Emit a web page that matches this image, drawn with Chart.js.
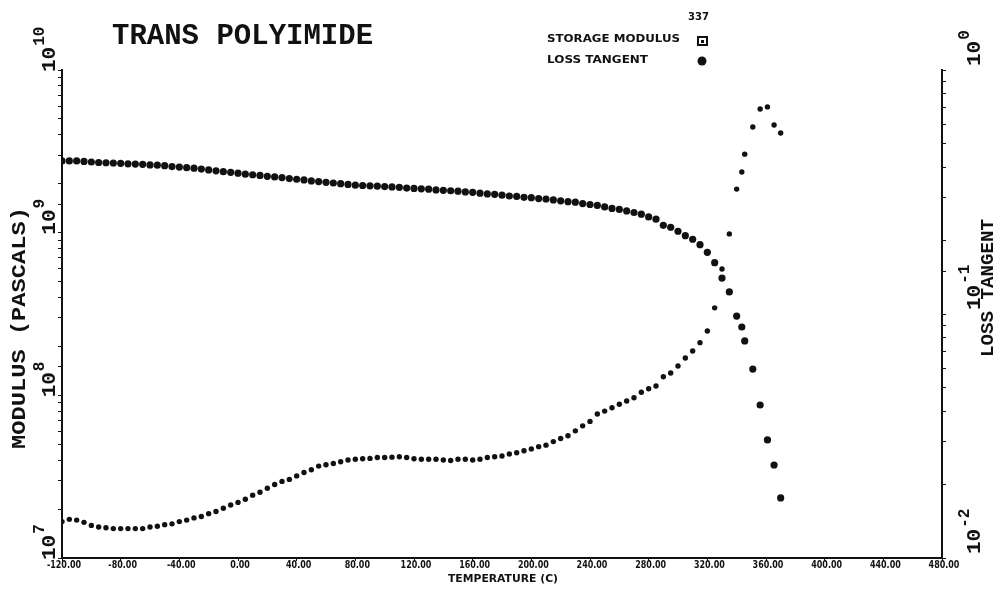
<!DOCTYPE html>
<html>
<head>
<meta charset="utf-8">
<script src="https://cdn.jsdelivr.net/npm/chart.js"></script>
<style>
  html, body { margin: 0; padding: 0; background: #fff; }
  canvas { display: block; }
</style>
</head>
<body>
<canvas id="dma" width="995" height="589"></canvas>
<script>
// temperature (C) of each sample, both curves share it
const temps = [
  -120, -115, -110, -105, -100, -95, -90, -85, -80, -75,
  -70, -65, -60, -55, -50, -45, -40, -35, -30, -25,
  -20, -15, -10, -5, 0, 5, 10, 15, 20, 25,
  30, 35, 40, 45, 50, 55, 60, 65, 70, 75,
  80, 85, 90, 95, 100, 105, 110, 115, 120, 125,
  130, 135, 140, 145, 150, 155, 160, 165, 170, 175,
  180, 185, 190, 195, 200, 205, 210, 215, 220, 225,
  230, 235, 240, 245, 250, 255, 260, 265, 270, 275,
  280, 285, 290, 295, 300, 305, 310, 315, 320, 325,
  330, 335, 340, 343.5, 345.5, 351, 356, 361, 365.5, 370
];

// storage modulus, Pa
const storageModulus = [
  2.76e9, 2.76e9, 2.76e9, 2.74e9, 2.72e9, 2.70e9, 2.69e9, 2.68e9, 2.67e9, 2.65e9,
  2.64e9, 2.63e9, 2.61e9, 2.60e9, 2.58e9, 2.55e9, 2.53e9, 2.51e9, 2.49e9, 2.46e9,
  2.43e9, 2.40e9, 2.37e9, 2.35e9, 2.32e9, 2.29e9, 2.27e9, 2.25e9, 2.22e9, 2.20e9,
  2.18e9, 2.15e9, 2.13e9, 2.11e9, 2.08e9, 2.06e9, 2.04e9, 2.02e9, 2.00e9, 1.98e9,
  1.96e9, 1.95e9, 1.94e9, 1.93e9, 1.92e9, 1.91e9, 1.90e9, 1.88e9, 1.87e9, 1.86e9,
  1.85e9, 1.83e9, 1.82e9, 1.81e9, 1.80e9, 1.78e9, 1.77e9, 1.75e9, 1.73e9, 1.72e9,
  1.70e9, 1.68e9, 1.67e9, 1.65e9, 1.64e9, 1.62e9, 1.61e9, 1.59e9, 1.57e9, 1.55e9,
  1.54e9, 1.51e9, 1.49e9, 1.47e9, 1.44e9, 1.41e9, 1.39e9, 1.36e9, 1.33e9, 1.30e9,
  1.25e9, 1.21e9, 1.11e9, 1.08e9, 1.02e9, 9.58e8, 9.11e8, 8.44e8, 7.57e8, 6.54e8,
  5.26e8, 4.32e8, 3.07e8, 2.63e8, 2.16e8, 1.45e8, 8.72e7, 5.32e7, 3.73e7, 2.34e7
];

// loss tangent (tan delta)
const lossTangent = [
  0.0141, 0.0144, 0.0143, 0.0140, 0.0136, 0.0134, 0.0133, 0.0132, 0.0132, 0.0132,
  0.0132, 0.0132, 0.0134, 0.0135, 0.0137, 0.0138, 0.0141, 0.0143, 0.0146, 0.0148,
  0.0152, 0.0155, 0.0160, 0.0165, 0.0169, 0.0174, 0.0181, 0.0186, 0.0193, 0.0200,
  0.0206, 0.0210, 0.0217, 0.0224, 0.0230, 0.0238, 0.0241, 0.0244, 0.0248, 0.0252,
  0.0254, 0.0255, 0.0256, 0.0258, 0.0258, 0.0259, 0.0260, 0.0258, 0.0255, 0.0254,
  0.0254, 0.0254, 0.0252, 0.0251, 0.0254, 0.0254, 0.0252, 0.0254, 0.0258, 0.0260,
  0.0262, 0.0267, 0.0270, 0.0275, 0.0280, 0.0286, 0.0290, 0.0300, 0.0309, 0.0317,
  0.0332, 0.0348, 0.0363, 0.0389, 0.0400, 0.0413, 0.0427, 0.0440, 0.0454, 0.0478,
  0.0494, 0.0507, 0.0553, 0.0573, 0.0612, 0.0660, 0.0705, 0.0763, 0.0852, 0.106,
  0.153, 0.213, 0.325, 0.382, 0.452, 0.584, 0.692, 0.706, 0.595, 0.552
];

const chartTitle = 'TRANS POLYIMIDE';
const runNumber = '337';
const seriesNames = ['STORAGE MODULUS', 'LOSS TANGENT'];
const xTitle = 'TEMPERATURE (C)';
const yLeftTitle = 'MODULUS (PASCALS)';
const yRightTitle = 'LOSS TANGENT';
const leftDecades = [7, 8, 9, 10];
const rightDecades = [-2, -1, 0];

const INK = '#111';
const MONO = '"Liberation Mono", "DejaVu Sans Mono", monospace';
const SANS = '"DejaVu Sans", "Liberation Sans", sans-serif';

// squeeze/stretch a string to a given width (old plotter lettering is narrow)
function fitText(ctx, str, x, y, w) {
  const m = ctx.measureText(str).width;
  ctx.save();
  ctx.translate(x, y);
  ctx.scale(w / m, 1);
  ctx.fillText(str, 0, 0);
  ctx.restore();
}

// "10" with a superscript, rotated to read bottom-to-top, starting at (x, y)
function powerLabel(ctx, x, y, exp) {
  ctx.save();
  ctx.translate(x, y);
  ctx.rotate(-Math.PI / 2);
  ctx.font = 'bold 21px ' + MONO;
  ctx.fillText('10', 0, 0);
  const w = ctx.measureText('10').width;
  ctx.font = 'bold 16px ' + MONO;
  ctx.fillText(String(exp), w + 1, -11);
  ctx.restore();
}

// vertical title centred on cy, stretched to a given length
function vTitle(ctx, str, x, cy, font, len) {
  ctx.save();
  ctx.translate(x, cy);
  ctx.rotate(-Math.PI / 2);
  ctx.font = font;
  fitText(ctx, str, -len / 2, 0, len);
  ctx.restore();
}

const annotate = {
  id: 'annotate',
  afterDraw(chart) {
    const { ctx, scales } = chart;
    ctx.save();
    ctx.fillStyle = INK;
    ctx.strokeStyle = INK;
    ctx.textBaseline = 'alphabetic';

    ctx.font = 'bold 29px ' + MONO;
    ctx.fillText(chartTitle, 112, 44);

    // legend block
    ctx.font = 'bold 10px ' + SANS;
    fitText(ctx, runNumber, 688, 20, 21);
    ctx.font = 'bold 11px ' + SANS;
    fitText(ctx, seriesNames[0], 547, 42, 133);
    fitText(ctx, seriesNames[1], 547, 63, 101);
    ctx.lineWidth = 2;
    ctx.strokeRect(698, 37, 9, 8);
    ctx.fillRect(701, 40, 3, 3);
    ctx.beginPath();
    ctx.arc(702, 61, 4.5, 0, Math.PI * 2);
    ctx.fill();

    // temperature tick labels
    ctx.font = 'bold 10px ' + SANS;
    scales.x.ticks.forEach(t => {
      const x = scales.x.getPixelForValue(t.value);
      const s = t.value.toFixed(2);
      const w = ctx.measureText(s).width * 0.8;
      fitText(ctx, s, x + 2 - w / 2, 568, w);
    });

    ctx.font = 'bold 11px ' + SANS;
    fitText(ctx, xTitle, 448, 582, 110);

    vTitle(ctx, yLeftTitle, 25, 328, 'bold 20px ' + MONO, 242);
    vTitle(ctx, yRightTitle, 993, 288, 'bold 19px ' + MONO, 138);

    leftDecades.forEach(p => {
      const y = scales.y.getPixelForValue(Math.pow(10, p));
      powerLabel(ctx, 55, y + 2, p);
    });
    rightDecades.forEach(p => {
      const y = scales.y2.getPixelForValue(Math.pow(10, p));
      powerLabel(ctx, 980, y - 4, p === 0 ? '0' : '-' + Math.abs(p));
    });
    ctx.restore();
  }
};

const noBox = s => { s.width = 0; };

new Chart(document.getElementById('dma'), {
  type: 'scatter',
  data: {
    datasets: [
      {
        label: seriesNames[0],
        data: temps.map((t, i) => ({ x: t, y: storageModulus[i] })),
        yAxisID: 'y',
        pointStyle: 'circle',
        pointRadius: 3.6,
        backgroundColor: INK,
        borderWidth: 0
      },
      {
        label: seriesNames[1],
        data: temps.map((t, i) => ({ x: t, y: lossTangent[i] })),
        yAxisID: 'y2',
        pointStyle: 'circle',
        pointRadius: 2.7,
        backgroundColor: INK,
        borderWidth: 0
      }
    ]
  },
  options: {
    responsive: false,
    animation: false,
    devicePixelRatio: 1,
    layout: { padding: { left: 62, right: 53, top: 70, bottom: 31 } },
    plugins: { legend: { display: false }, tooltip: { enabled: false } },
    scales: {
      x: {
        type: 'linear',
        min: -120,
        max: 480,
        afterFit: s => { s.height = 0; },
        border: { color: INK, width: 2 },
        grid: { drawOnChartArea: false, tickLength: 3, color: INK },
        ticks: { stepSize: 40, autoSkip: false, display: false }
      },
      y: {
        type: 'logarithmic',
        position: 'left',
        min: 1e7,
        max: 1e10,
        afterFit: noBox,
        border: { color: INK, width: 2 },
        grid: { drawOnChartArea: false, tickLength: 4, color: INK },
        ticks: { display: false }
      },
      y2: {
        type: 'logarithmic',
        position: 'right',
        min: 0.01,
        max: 1,
        afterFit: noBox,
        border: { color: INK, width: 2 },
        grid: { drawOnChartArea: false, tickLength: 4, color: INK },
        ticks: { display: false }
      }
    }
  },
  plugins: [annotate]
});
</script>
</body>
</html>
